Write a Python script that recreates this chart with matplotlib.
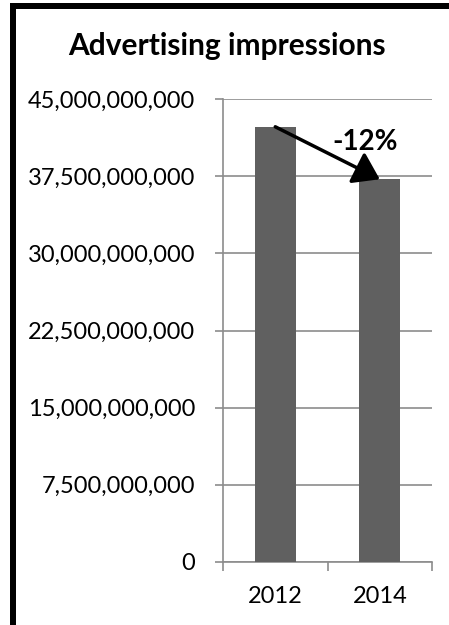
import matplotlib
matplotlib.use("Agg")
import matplotlib.pyplot as plt
from matplotlib.patches import Rectangle
from matplotlib.ticker import FuncFormatter

years = ["2012", "2014"]
impressions = [42300000000, 37200000000]
change_label = "-12%"
y_ticks = [0, 7.5e9, 15e9, 22.5e9, 30e9, 37.5e9, 45e9]

plt.rcParams['font.family'] = ['Lato', 'DejaVu Sans']

fig = plt.figure(figsize=(4.49, 6.25), dpi=100)
ax = fig.add_axes([0.4967, 0.1008, 0.4655, 0.7408])

x = range(len(years))
ax.bar(x, impressions, width=0.39, color='#606060', zorder=3)
ax.set_xlim(-0.5, 1.5)
ax.set_ylim(0, 45e9)
ax.set_yticks(y_ticks)
ax.yaxis.set_major_formatter(FuncFormatter(lambda v, p: f"{int(v):,}"))
ax.set_xticks(list(x))
ax.set_xticklabels(years)
ax.set_xticks([-0.5, 0.5, 1.5], minor=True)

grid_c = '#8c8c8c'
ax.grid(axis='y', color=grid_c, lw=1.2, zorder=0)
for s in ['top', 'right']:
    ax.spines[s].set_visible(False)
for s in ['left', 'bottom']:
    ax.spines[s].set_color(grid_c)
    ax.spines[s].set_linewidth(1.2)
ax.tick_params(axis='y', length=6, color=grid_c, width=1.2, pad=14, labelsize=17)
ax.tick_params(axis='x', which='major', length=0, pad=17, labelsize=17)
ax.tick_params(axis='x', which='minor', length=6.5, color=grid_c, width=1.2)

# change arrow from first bar to second
ax.annotate("", xy=(1, impressions[1]), xytext=(0, impressions[0]),
            arrowprops=dict(arrowstyle="-|>,head_length=1.55,head_width=1.05",
                            mutation_scale=10, lw=2.5, color='black',
                            shrinkA=0, shrinkB=0), zorder=5)
ax.text(0.86, 40.8e9, change_label, ha='center', va='center',
        fontsize=20, fontweight='bold', zorder=6)

fig.text(0.506, 0.912, "Advertising impressions", ha='center', va='baseline',
         fontsize=21.5, fontweight='bold')

# black frame on the left and top
fig.add_artist(Rectangle((10 / 449, 0), 6 / 449, 1 - 3 / 625,
                         transform=fig.transFigure, color='black', lw=0))
fig.add_artist(Rectangle((10 / 449, 1 - 9 / 625), 1, 6 / 625,
                         transform=fig.transFigure, color='black', lw=0))

fig.savefig("out.png", dpi=100)
